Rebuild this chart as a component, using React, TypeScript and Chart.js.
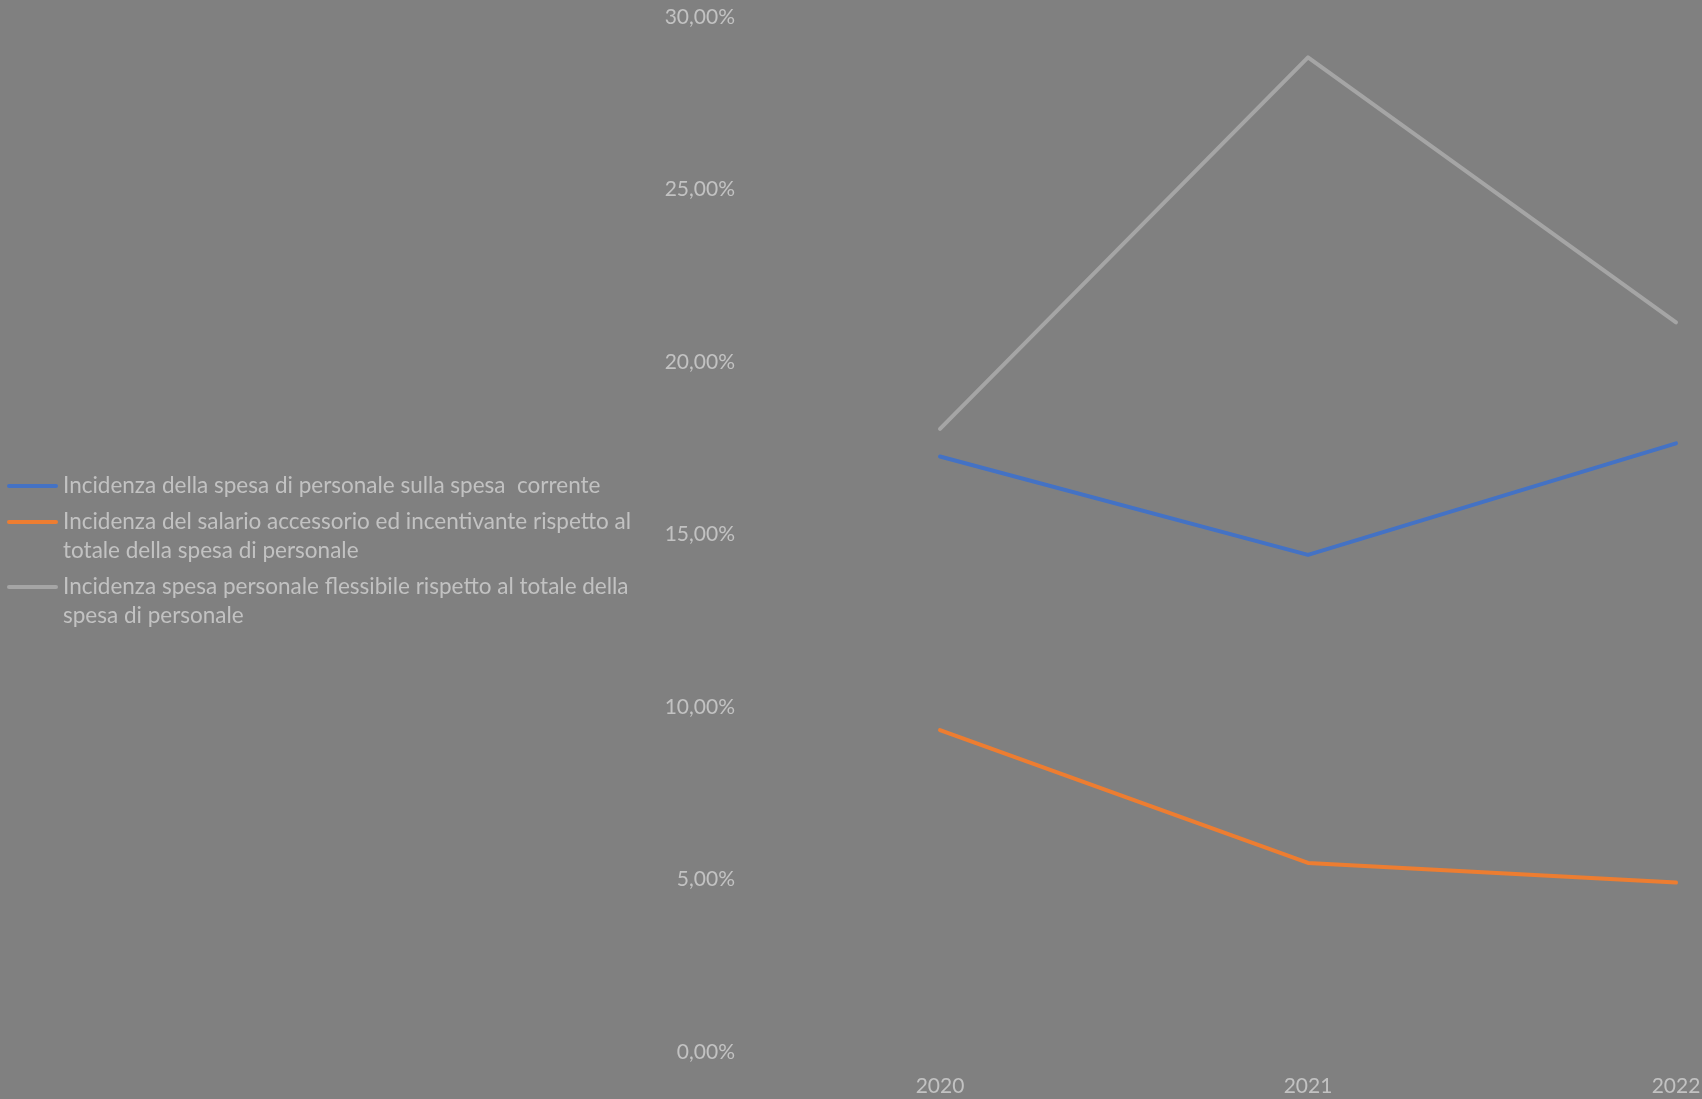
import React, { useEffect, useRef } from "react";
import { Chart, registerables } from "chart.js";

Chart.register(...registerables);

const categories = ["2020", "2021", "2022"];
const seriesLabels = [
  "Incidenza della spesa di personale sulla spesa  corrente",
  "Incidenza del salario accessorio ed incentivante rispetto al totale della spesa di personale",
  "Incidenza spesa personale flessibile rispetto al totale della spesa di personale",
];
const spesaCorrente = [0.1726, 0.1441, 0.1764];
const salarioAccessorio = [0.0933, 0.0548, 0.0491];
const spesaFlessibile = [0.1806, 0.2883, 0.2115];
const seriesColors = ["#4472C4", "#ED7D31", "#A5A5A5"];
const yMin = 0;
const yMax = 0.3;
const yStep = 0.05;

const FONT = "Lato, 'Open Sans', sans-serif";
const TEXT_COLOR = "#C2C2C2";

function formatPct(v: number): string {
  return (v * 100).toFixed(2).replace(".", ",") + "%";
}

function wrapText(ctx: CanvasRenderingContext2D, text: string, maxWidth: number): string[] {
  const words = text.split(" ");
  const lines: string[] = [];
  let cur = "";
  for (const w of words) {
    const test = cur === "" ? w : cur + " " + w;
    if (ctx.measureText(test).width > maxWidth && cur !== "") {
      lines.push(cur);
      cur = w;
    } else {
      cur = test;
    }
  }
  if (cur !== "") lines.push(cur);
  return lines;
}

const sideLegend = {
  id: "sideLegend",
  afterDraw(chart: any, _args: any, opts: any) {
    const ctx: CanvasRenderingContext2D = chart.ctx;
    ctx.save();
    ctx.font = `${opts.fontSize}px ${opts.fontFamily}`;
    ctx.textBaseline = "middle";
    ctx.textAlign = "left";
    let y = opts.top;
    chart.data.datasets.forEach((ds: any) => {
      const lines = wrapText(ctx, ds.label, opts.maxWidth);
      ctx.strokeStyle = ds.borderColor;
      ctx.lineWidth = 4;
      ctx.lineCap = "round";
      ctx.beginPath();
      ctx.moveTo(opts.lineX0, y);
      ctx.lineTo(opts.lineX1, y);
      ctx.stroke();
      ctx.fillStyle = opts.color;
      lines.forEach((ln, i) => ctx.fillText(ln, opts.textX, y + i * opts.lineHeight));
      y += lines.length * opts.lineHeight + opts.gap;
    });
    ctx.restore();
  },
};

export default function App() {
  const canvasRef = useRef<HTMLCanvasElement | null>(null);

  useEffect(() => {
    if (!canvasRef.current) return;
    const seriesData = [spesaCorrente, salarioAccessorio, spesaFlessibile];
    const chart = new Chart(canvasRef.current, {
      type: "line",
      data: {
        labels: categories,
        datasets: seriesData.map((d, i) => ({
          label: seriesLabels[i],
          data: d,
          borderColor: seriesColors[i],
          backgroundColor: seriesColors[i],
          borderWidth: 4,
          borderCapStyle: "round" as const,
          borderJoinStyle: "round" as const,
          pointRadius: 0,
          tension: 0,
          fill: false,
        })),
      },
      options: {
        responsive: false,
        animation: false,
        layout: { padding: { top: 17, left: 0, right: 0, bottom: 0 } },
        plugins: {
          legend: { display: false },
          tooltip: { enabled: false },
          sideLegend: {
            top: 486,
            lineX0: 9,
            lineX1: 56,
            textX: 63,
            maxWidth: 592,
            lineHeight: 29,
            gap: 7,
            fontSize: 22.5,
            fontFamily: FONT,
            color: TEXT_COLOR,
          },
        } as any,
        scales: {
          x: {
            type: "category",
            offset: true,
            grid: { display: false, drawTicks: false },
            border: { display: false },
            ticks: {
              color: TEXT_COLOR,
              font: { family: FONT, size: 21 },
              padding: 22,
              maxRotation: 0,
              autoSkip: false,
            },
            afterFit(scale: any) {
              scale.height = 47;
              scale.paddingLeft = 0;
              scale.paddingRight = 0;
            },
          },
          y: {
            min: yMin,
            max: yMax,
            grid: { display: false, drawTicks: false },
            border: { display: false },
            ticks: {
              stepSize: yStep,
              color: TEXT_COLOR,
              font: { family: FONT, size: 21 },
              padding: 21,
              callback: (v: any) => formatPct(Number(v)),
            },
            afterFit(scale: any) {
              scale.width = 756;
              scale.paddingTop = 0;
              scale.paddingBottom = 0;
            },
          },
        },
      },
      plugins: [sideLegend],
    });
    return () => chart.destroy();
  }, []);

  return (
    <div
      style={{
        position: "fixed",
        left: 0,
        top: 0,
        width: 1702,
        height: 1099,
        overflow: "hidden",
        background: "#808080",
      }}
    >
      <canvas ref={canvasRef} width={1860} height={1099} style={{ display: "block" }} />
    </div>
  );
}
